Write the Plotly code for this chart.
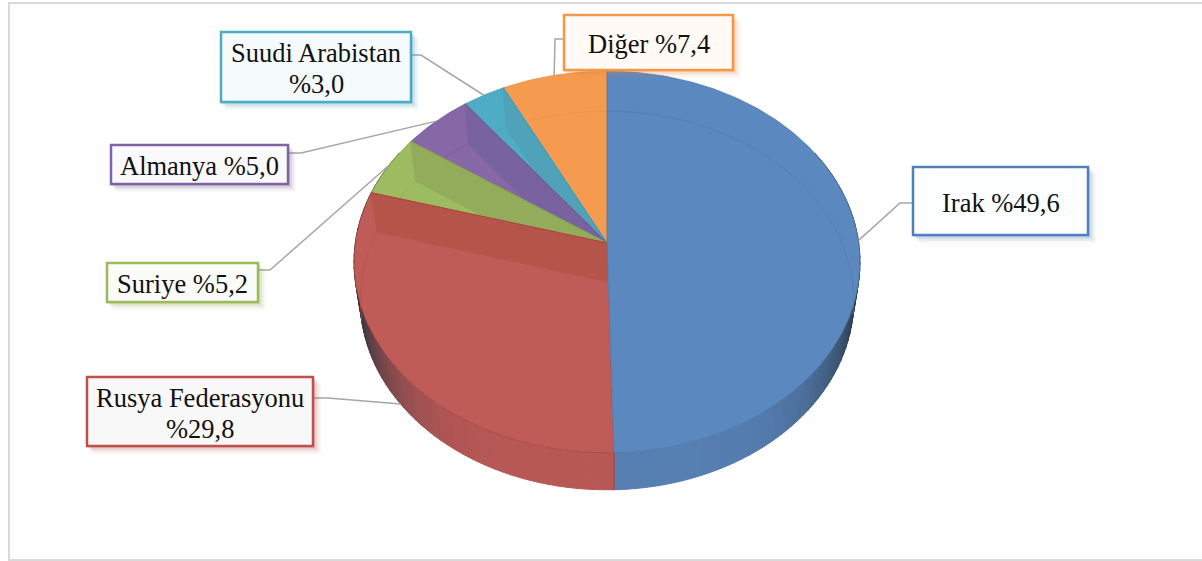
import numpy as np
import plotly.graph_objects as go

# ================= DATA =================
LABELS = ["Irak", "Rusya Federasyonu", "Suriye", "Almanya", "Suudi Arabistan", "Diğer"]
SHARES = [49.6, 29.8, 5.2, 5.0, 3.0, 7.4]
BOX_TEXT = [["Irak %49,6"], ["Rusya Federasyonu", "%29,8"], ["Suriye %5,2"],
            ["Almanya %5,0"], ["Suudi Arabistan", "%3,0"], ["Diğer %7,4"]]

# ================= STYLE =================
FACE = ["#5B88BE", "#C05C58", "#9DBB61", "#8568A5", "#4EACC5", "#F59B50"]
BAND = ["#5B88BE", "#B55449", "#92AC5B", "#7862A0", "#4FA2B8", "#F59B50"]
EDGE = ["#4E78AE", "#A8423F", "#84A04B", "#6C5290", "#3E98B0", "#E98A3E"]
INNER = ["#5079B0", "#B5504D", "#8FAB58", "#77599B", "#45A0B8", "#EC9048"]
WALL = [(86, 127, 178), (184, 88, 85), (140, 165, 85), (115, 90, 145), (70, 150, 175), (220, 135, 70)]
BORDER = ["#4F81BD", "#C0504D", "#9BBB59", "#8064A2", "#4BACC6", "#F79646"]
BOX_FILL = ["#FDFEFF", "#F9F8F8", "#FBFCF9", "#FAF9FC", "#F5FAFC", "#FFFAF5"]
# box edges in pixels: x0, x1, y0, y1
BOXES = [(913, 1088, 167, 235), (87, 313, 377, 446), (107, 258, 263, 302),
         (111, 288, 145, 184), (221, 411, 32, 102), (564, 733, 15, 70)]
# where the leader leaves the box, and its elbow
LEADER_START = [(913, 203), (313, 398), (258, 270), (288, 153), (411, 55), (564, 39)]
LEADER_ELBOW = [(900, 203), (328, 398), (270, 270), (301, 153), (421, 55), (555, 39)]
LEADER_ON_LOWER = [False, True, False, False, False, False]
LINE_STEP = 31
TEXT_DROP = 1.5

# pie projection (seen in perspective, so the centre sits above the ellipse centre)
APEX_X, APEX_Y = 607, 243
RX, RY, PERSP = 251.7, 189, 0.0995
LOW_FX, LOW_FY, DEPTH = 0.975, 0.992, 38.6


def rim(theta, lower=False):
    s, c = np.sin(theta), np.cos(theta)
    d = 1 + PERSP * c
    x, y = RX * s / d, RY * c / d
    if lower:
        return APEX_X + LOW_FX * x, APEX_Y - LOW_FY * y + DEPTH
    return APEX_X + x, APEX_Y - y


def arc(t0, t1, lower=False):
    n = max(int(abs(t1 - t0) / np.radians(1)), 2)
    return rim(np.linspace(t0, t1, n), lower)


def poly(fig, x, y, fill, line=None, width=1):
    fig.add_trace(go.Scatter(x=list(x), y=list(y), mode="lines", fill="toself", fillcolor=fill,
                             line=dict(color=line or fill, width=width),
                             hoverinfo="skip", showlegend=False))


def path(fig, x, y, color, width=1):
    fig.add_trace(go.Scatter(x=list(x), y=list(y), mode="lines", line=dict(color=color, width=width),
                             hoverinfo="skip", showlegend=False))


cum = np.cumsum([0] + SHARES)
starts = np.radians(cum[:-1] * 3.6)
ends = np.radians(cum[1:] * 3.6)
mids = (starts + ends) / 2

fig = go.Figure()

# side wall, shaded towards the silhouette
wall_from, wall_to = np.radians(60), np.radians(300)
for i in range(len(SHARES)):
    t0, t1 = max(starts[i], wall_from), min(ends[i], wall_to)
    if t0 >= t1:
        continue
    steps = np.arange(t0, t1, np.radians(2))
    for a in steps:
        b = min(a + np.radians(2), t1)
        k = abs(np.sin((a + b) / 2)) ** 5
        col = [WALL[i][j] * (1 - k) + (38, 48, 62)[j] * k for j in range(3)]
        col = f"rgb({col[0]:.0f},{col[1]:.0f},{col[2]:.0f})"
        xt, yt = rim(np.array([a, b]))
        xl, yl = rim(np.array([b, a]), True)
        poly(fig, [*xt, *xl, xt[0]], [*yt, *yl, yt[0]], col)

# seam between the two visible walls
sx, sy = rim(starts[1])
lx, ly = rim(starts[1], True)
path(fig, [sx, lx], [sy, ly], EDGE[1], 1.2)

# top faces: each slice covers the overflow of the one drawn before it
for i in [5, 4, 3, 2, 1, 0]:
    xa, ya = arc(starts[i], ends[i])
    poly(fig, [APEX_X, *xa, APEX_X], [APEX_Y, *ya, APEX_Y], FACE[i], EDGE[i], 0.7)
    xt, yt = rim(ends[i])
    xl, yl = rim(ends[i], True)
    if i != 5 and i != 0:
        # cut face seen through the glassy top
        poly(fig, [xt, APEX_X, APEX_X, xl, xt], [yt, APEX_Y, APEX_Y + DEPTH, yl, yt], BAND[i])
        path(fig, [xt, APEX_X], [yt, APEX_Y], EDGE[i], 0.7)
    # lower rim seen through the top
    low0, low1 = starts[i], ends[i]
    if i == 0:
        low1 = np.radians(100)
    if i == 1:
        low0 = np.radians(258)
    xi, yi = arc(low0, low1, True)
    path(fig, xi, yi, INNER[i], 0.7)

# leader lines end on the slice's own rim
for i in range(len(SHARES)):
    ex, ey = rim(mids[i], LEADER_ON_LOWER[i])
    path(fig, [LEADER_START[i][0], LEADER_ELBOW[i][0], ex], [LEADER_START[i][1], LEADER_ELBOW[i][1], ey],
         "#A6A6A6", 1.5)

# outer frame has no right side
fig.add_shape(type="path", path="M 1202 3 L 9 3 L 9 560 L 1202 560", xref="x", yref="y",
              line=dict(color="#D9D9D9", width=2), layer="below")

# label boxes with a soft shadow
for i, (x0, x1, y0, y1) in enumerate(BOXES):
    r, g, b = WALL[i]
    for off, alpha in [(8, 0.05), (6, 0.09), (4, 0.14), (2, 0.2)]:
        fig.add_shape(type="rect", x0=x0 + off - 2, x1=x1 + off, y0=y0 + off - 1, y1=y1 + off, xref="x", yref="y",
                      line=dict(width=0), fillcolor=f"rgba({r},{g},{b},{alpha})")
    fig.add_shape(type="rect", x0=x0, x1=x1, y0=y0, y1=y1, xref="x", yref="y",
                  line=dict(color=BORDER[i], width=2.5), fillcolor=BOX_FILL[i])
    lines = BOX_TEXT[i]
    for n, text in enumerate(lines):
        yc = (y0 + y1) / 2 + (n - (len(lines) - 1) / 2) * LINE_STEP + TEXT_DROP
        fig.add_annotation(x=(x0 + x1) / 2, y=yc, xref="x", yref="y", text=text,
                           showarrow=False, align="center",
                           font=dict(family="Liberation Serif", size=26.5, color="#111111"))

fig.update_layout(
    width=1202, height=561, autosize=False,
    margin=dict(l=0, r=0, t=0, b=0),
    paper_bgcolor="white", plot_bgcolor="white",
    showlegend=False,
    xaxis=dict(range=[0, 1202], visible=False, fixedrange=True),
    yaxis=dict(range=[561, 0], visible=False, fixedrange=True),
)

fig.write_html("out.html", config=dict(displayModeBar=False),
               post_script="document.body.style.margin='0';")
